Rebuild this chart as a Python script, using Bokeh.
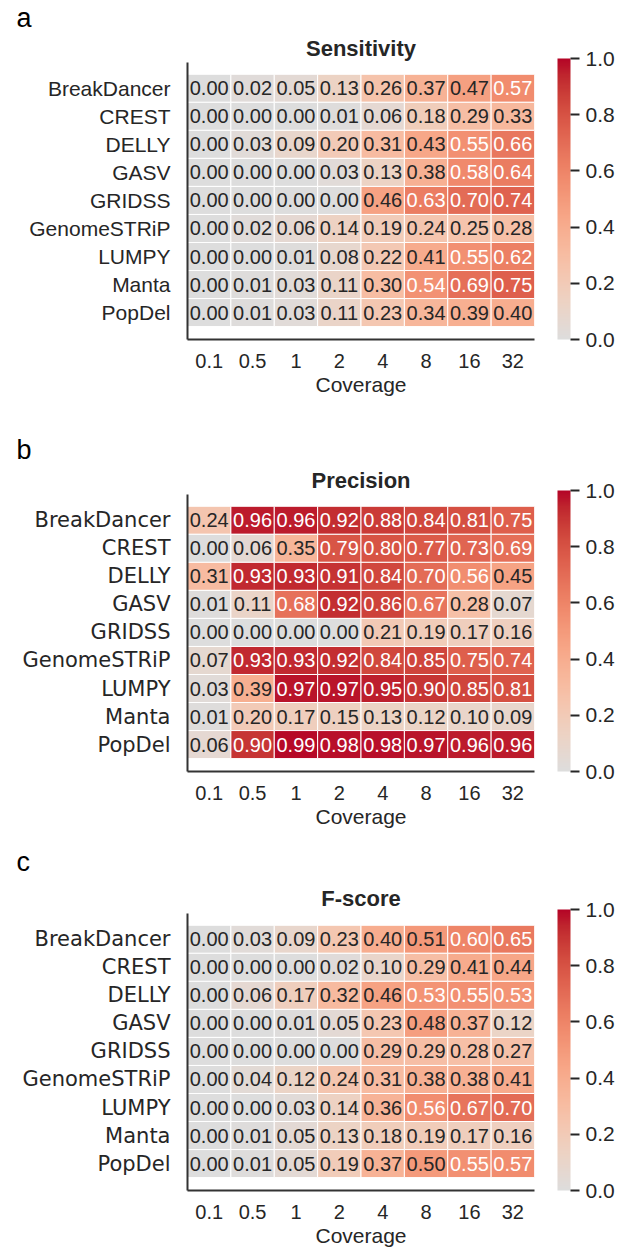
import numpy as np
from bokeh.plotting import figure
from bokeh.models import (ColumnDataSource, LinearColorMapper, ColorBar, FixedTicker,
                          PrintfTickFormatter, Title, Range1d)
from bokeh.layouts import column
from bokeh.embed import file_html
from bokeh.resources import INLINE
from bokeh.core.properties import value

# ---------------- data ----------------
tools = ["BreakDancer", "CREST", "DELLY", "GASV", "GRIDSS",
         "GenomeSTRiP", "LUMPY", "Manta", "PopDel"]
coverage = ["0.1", "0.5", "1", "2", "4", "8", "16", "32"]

sensitivity = [
    [0.00, 0.02, 0.05, 0.13, 0.26, 0.37, 0.47, 0.57],
    [0.00, 0.00, 0.00, 0.01, 0.06, 0.18, 0.29, 0.33],
    [0.00, 0.03, 0.09, 0.20, 0.31, 0.43, 0.55, 0.66],
    [0.00, 0.00, 0.00, 0.03, 0.13, 0.38, 0.58, 0.64],
    [0.00, 0.00, 0.00, 0.00, 0.46, 0.63, 0.70, 0.74],
    [0.00, 0.02, 0.06, 0.14, 0.19, 0.24, 0.25, 0.28],
    [0.00, 0.00, 0.01, 0.08, 0.22, 0.41, 0.55, 0.62],
    [0.00, 0.01, 0.03, 0.11, 0.30, 0.54, 0.69, 0.75],
    [0.00, 0.01, 0.03, 0.11, 0.23, 0.34, 0.39, 0.40],
]
precision = [
    [0.24, 0.96, 0.96, 0.92, 0.88, 0.84, 0.81, 0.75],
    [0.00, 0.06, 0.35, 0.79, 0.80, 0.77, 0.73, 0.69],
    [0.31, 0.93, 0.93, 0.91, 0.84, 0.70, 0.56, 0.45],
    [0.01, 0.11, 0.68, 0.92, 0.86, 0.67, 0.28, 0.07],
    [0.00, 0.00, 0.00, 0.00, 0.21, 0.19, 0.17, 0.16],
    [0.07, 0.93, 0.93, 0.92, 0.84, 0.85, 0.75, 0.74],
    [0.03, 0.39, 0.97, 0.97, 0.95, 0.90, 0.85, 0.81],
    [0.01, 0.20, 0.17, 0.15, 0.13, 0.12, 0.10, 0.09],
    [0.06, 0.90, 0.99, 0.98, 0.98, 0.97, 0.96, 0.96],
]
fscore = [
    [0.00, 0.03, 0.09, 0.23, 0.40, 0.51, 0.60, 0.65],
    [0.00, 0.00, 0.00, 0.02, 0.10, 0.29, 0.41, 0.44],
    [0.00, 0.06, 0.17, 0.32, 0.46, 0.53, 0.55, 0.53],
    [0.00, 0.00, 0.01, 0.05, 0.23, 0.48, 0.37, 0.12],
    [0.00, 0.00, 0.00, 0.00, 0.29, 0.29, 0.28, 0.27],
    [0.00, 0.04, 0.12, 0.24, 0.31, 0.38, 0.38, 0.41],
    [0.00, 0.00, 0.03, 0.14, 0.36, 0.56, 0.67, 0.70],
    [0.00, 0.01, 0.05, 0.13, 0.18, 0.19, 0.17, 0.16],
    [0.00, 0.01, 0.05, 0.19, 0.37, 0.50, 0.55, 0.57],
]
colorbar_ticks = [0.0, 0.2, 0.4, 0.6, 0.8, 1.0]

# ---------------- colour map (upper half of cool-warm) ----------------
CW_STOPS = [
    (221, 221, 221), (229, 216, 209), (236, 211, 197), (241, 204, 185),
    (245, 196, 173), (247, 187, 160), (247, 177, 148), (247, 166, 135),
    (244, 154, 123), (241, 141, 111), (236, 127, 99), (229, 112, 89),
    (222, 96, 77), (213, 80, 66), (203, 62, 56), (192, 40, 47), (180, 4, 38),
]


def build_palette(stops, n=256):
    arr = np.array(stops, dtype=float)
    pos = np.linspace(0, 1, len(stops))
    t = np.linspace(0, 1, n)
    out = []
    for ti in t:
        rgb = [np.interp(ti, pos, arr[:, k]) for k in range(3)]
        out.append("#%02x%02x%02x" % tuple(int(round(c)) for c in rgb))
    return out


PALETTE = build_palette(CW_STOPS)
DARK = "#262626"
FRAME_LEFT, FRAME_W, FRAME_H, FIG_W = 187, 347, 281, 634
CELL_FONT = "Liberation Sans Narrow, Liberation Sans"


def make_panel(values, title, letter, height, top, title_standoff, letter_standoff,
               label_font):
    nrow, ncol = len(tools), len(coverage)
    p = figure(width=FIG_W, height=height, output_backend="svg", toolbar_location=None,
               title=None,
               x_range=Range1d(0, ncol), y_range=Range1d(nrow + 0.46, -0.42),
               min_border_left=FRAME_LEFT, min_border_right=FIG_W - FRAME_LEFT - FRAME_W,
               min_border_top=top, min_border_bottom=height - top - FRAME_H)
    p.outline_line_color = None
    p.xgrid.visible = False
    p.ygrid.visible = False
    p.background_fill_color = "white"

    # panel title (next to the frame), then panel letter (outermost)
    p.add_layout(Title(text=title, align="center", offset=3, standoff=title_standoff,
                       text_font="Liberation Sans", text_font_size="22px",
                       text_font_style="bold", text_color=DARK), "above")
    p.add_layout(Title(text=letter, align="left", offset=16 - FRAME_LEFT,
                       standoff=letter_standoff, text_font="Liberation Sans",
                       text_font_size="27px", text_font_style="normal",
                       text_color="black"), "above")

    mapper = LinearColorMapper(palette=PALETTE, low=0, high=1)
    xs, ys, vs, ts, tc = [], [], [], [], []
    for i in range(nrow):
        for j in range(ncol):
            v = values[i][j]
            xs.append(j + 0.5)
            ys.append(i + 0.5)
            vs.append(v)
            ts.append("%.2f" % v)
            tc.append("white" if v > 0.52 else DARK)
    src = ColumnDataSource(dict(x=xs, y=ys, v=vs, t=ts, tc=tc))
    p.rect(x="x", y="y", width=1, height=1, source=src,
           fill_color={"field": "v", "transform": mapper},
           line_color="white", line_width=1)
    p.text(x="x", y="y", text="t", source=src, text_color="tc",
           text_align="center", text_baseline="middle",
           text_font=value(CELL_FONT), text_font_size="20px")

    # axes
    for ax in (p.xaxis[0], p.yaxis[0]):
        ax.axis_line_color = "#333333"
        ax.axis_line_width = 2
        ax.major_tick_in = 0
        ax.major_tick_out = 0
        ax.minor_tick_line_color = None
        ax.major_tick_line_color = None
        ax.major_label_text_color = DARK
    p.xaxis.ticker = FixedTicker(ticks=[j + 0.5 for j in range(ncol)])
    p.xaxis.major_label_overrides = {j + 0.5: c for j, c in enumerate(coverage)}
    p.xaxis.major_label_text_font = "Liberation Sans"
    p.xaxis.major_label_text_font_size = "20px"
    p.xaxis.major_label_standoff = 14
    p.xaxis.axis_label = "Coverage"
    p.xaxis.axis_label_text_font = "Liberation Sans"
    p.xaxis.axis_label_text_font_style = "normal"
    p.xaxis.axis_label_text_font_size = "21px"
    p.xaxis.axis_label_text_color = DARK
    p.xaxis.axis_label_standoff = 2

    p.yaxis.ticker = FixedTicker(ticks=[i + 0.5 for i in range(nrow)])
    p.yaxis.major_label_overrides = {i + 0.5: t for i, t in enumerate(tools)}
    p.yaxis.major_label_text_font = label_font
    p.yaxis.major_label_text_font_size = "21px"
    p.yaxis.major_label_standoff = 17

    cb = ColorBar(color_mapper=mapper, ticker=FixedTicker(ticks=colorbar_ticks),
                  formatter=PrintfTickFormatter(format="%.1f"),
                  width=13, height=FRAME_H, location=(370, 0), padding=0, margin=0,
                  major_tick_in=0, major_tick_out=9, major_tick_line_color=DARK,
                  major_tick_line_width=2, minor_tick_line_color=None,
                  bar_line_color=None, border_line_color=None,
                  background_fill_color=None, background_fill_alpha=0,
                  label_standoff=6, major_label_text_font="Liberation Sans",
                  major_label_text_font_size="21px", major_label_text_color=DARK)
    p.add_layout(cb, "center")
    return p


pa = make_panel(sensitivity, "Sensitivity", "a", 432, 58, 3, 0, "Liberation Sans")
pb = make_panel(precision, "Precision", "b", 408, 58, 3, 0, "DejaVu Sans")
pc = make_panel(fscore, "F-score", "c", 415, 69, 6, 8, "DejaVu Sans")

layout = column(pa, pb, pc, spacing=0)
open("out.html", "w").write(file_html(layout, INLINE))
